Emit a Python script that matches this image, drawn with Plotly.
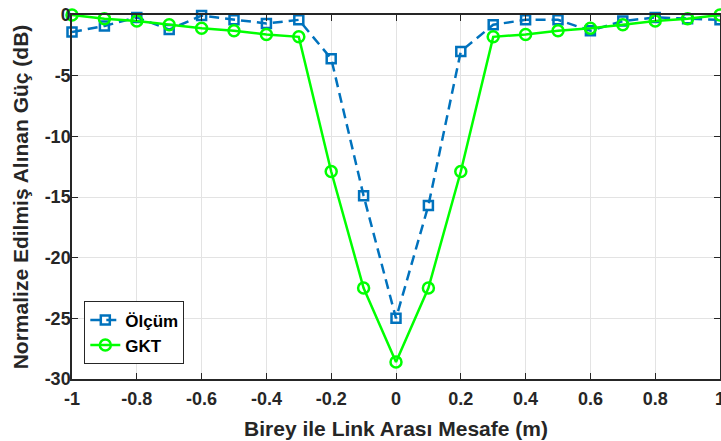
import plotly.graph_objects as go

x_vals = [-1.0, -0.9, -0.8, -0.7, -0.6, -0.5, -0.4, -0.3, -0.2, -0.1, 0.0,
          0.1, 0.2, 0.3, 0.4, 0.5, 0.6, 0.7, 0.8, 0.9, 1.0]
olcum = [-1.4, -0.9, -0.2, -1.2, -0.05, -0.4, -0.7, -0.4, -3.6, -14.9, -25.0,
         -15.7, -3.0, -0.8, -0.4, -0.4, -1.3, -0.5, -0.2, -0.3, -0.4]
gkt = [0.0, -0.3, -0.5, -0.8, -1.1, -1.3, -1.6, -1.8, -12.9, -22.5, -28.6,
       -22.5, -12.9, -1.8, -1.6, -1.3, -1.1, -0.8, -0.5, -0.3, 0.0]

x_ticks = [-1, -0.8, -0.6, -0.4, -0.2, 0, 0.2, 0.4, 0.6, 0.8, 1]
x_ticktext = ["-1", "-0.8", "-0.6", "-0.4", "-0.2", "0", "0.2", "0.4", "0.6", "0.8", "1"]
y_ticks = [0, -5, -10, -15, -20, -25, -30]
y_ticktext = ["0", "-5", "-10", "-15", "-20", "-25", "-30"]

fig = go.Figure()
fig.add_trace(go.Scatter(
    x=x_vals, y=olcum, name="Ölçüm", mode="lines+markers",
    line=dict(color="#0072BD", width=2.5, dash="10px,6px"),
    marker=dict(symbol="square-open", size=9, color="#0072BD", line=dict(width=2.5)),
    cliponaxis=False,
))
fig.add_trace(go.Scatter(
    x=x_vals, y=gkt, name="GKT", mode="lines+markers",
    line=dict(color="#00FF00", width=2.5),
    marker=dict(symbol="circle-open", size=11, color="#00FF00", line=dict(width=2.5)),
    cliponaxis=False,
))

font_family = "Liberation Sans, Arial, sans-serif"
fig.update_layout(
    width=721, height=441,
    margin=dict(l=72, r=1, t=15, b=62),
    paper_bgcolor="white", plot_bgcolor="white",
    font=dict(family=font_family, size=14, color="#262626"),
    showlegend=True,
    legend=dict(
        x=0.019, y=0.04, xanchor="left", yanchor="bottom",
        bgcolor="white", bordercolor="#262626", borderwidth=1,
        font=dict(family=font_family, size=17, color="black", weight="bold"),
        tracegroupgap=0, itemwidth=30,
    ),
)
fig.update_xaxes(
    range=[-1, 1], tickvals=x_ticks, ticktext=x_ticktext,
    showgrid=True, gridcolor="#E3E3E3", gridwidth=1,
    zeroline=False, showline=True, linecolor="#262626", linewidth=1.5,
    mirror="ticks", ticks="inside", ticklen=6, tickcolor="#262626",
    automargin=False, ticklabeloverflow="allow", ticklabelstandoff=3,
    tickfont=dict(family=font_family, size=18, color="#262626", weight="bold"),
    title=dict(text="Birey ile Link Arası Mesafe (m)", standoff=13,
               font=dict(family=font_family, size=21, color="#262626", weight="bold")),
)
fig.update_yaxes(
    range=[-30, 0], tickvals=y_ticks, ticktext=y_ticktext,
    showgrid=True, gridcolor="#E3E3E3", gridwidth=1,
    zeroline=False, showline=True, linecolor="#262626", linewidth=1.5,
    mirror="ticks", ticks="inside", ticklen=6, tickcolor="#262626",
    automargin=False, ticklabeloverflow="allow", ticklabelstandoff=-4,
    tickfont=dict(family=font_family, size=18, color="#262626", weight="bold"),
    title=dict(text="Normalize Edilmiş Alınan Güç (dB)", standoff=10,
               font=dict(family=font_family, size=21, color="#262626", weight="bold")),
)

fig.write_html("out.html", post_script="document.body.style.margin='0';",
               config={"displayModeBar": False})
